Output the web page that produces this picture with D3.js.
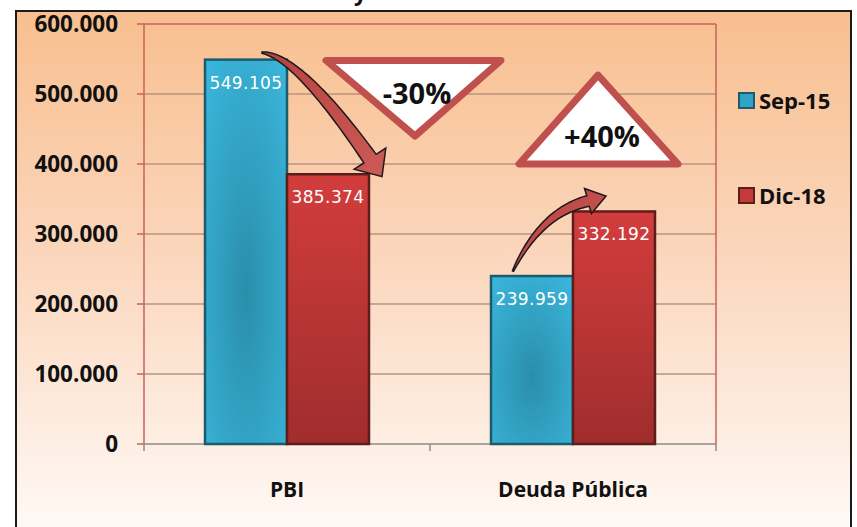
<!DOCTYPE html>
<html>
<head>
<meta charset="utf-8">
<script src="https://cdn.jsdelivr.net/npm/d3@7"></script>
<style>
  body { margin: 0; background: #fff; }
  svg { display: block; }
  .tick-label { font-family: "Open Sans", sans-serif; font-weight: 700; font-size: 22.5px; fill: #111; }
  .cat-label { font-family: "Open Sans", sans-serif; font-weight: 700; font-size: 21px; fill: #111; }
  .value-label { font-family: "DejaVu Sans", sans-serif; font-size: 17px; fill: #fff; letter-spacing: 0.4px; }
  .legend-label { font-family: "Open Sans", sans-serif; font-weight: 700; font-size: 22px; fill: #111; }
  .badge { font-family: "Open Sans", sans-serif; font-weight: 700; font-size: 29px; fill: #111; }
</style>
</head>
<body>
<div id="chart"></div>
<script>
const categories = ["PBI", "Deuda Pública"];
const series = ["Sep-15", "Dic-18"];
const sep15 = [549105, 239959];
const dic18 = [385374, 332192];
const valueLabels = [["549.105", "385.374"], ["239.959", "332.192"]];
const yTicks = [0, 100000, 200000, 300000, 400000, 500000, 600000];
const yTickLabels = ["0", "100.000", "200.000", "300.000", "400.000", "500.000", "600.000"];
const changes = ["-30%", "+40%"];

const width = 857, height = 527;
const plot = { left: 144, right: 716, top: 24, bottom: 444 };

const svg = d3.select("#chart").append("svg")
  .attr("width", width)
  .attr("height", height);

const defs = svg.append("defs");

const bg = defs.append("linearGradient").attr("id", "bg")
  .attr("x1", 0).attr("y1", 0).attr("x2", 0).attr("y2", 1);
bg.append("stop").attr("offset", "0%").attr("stop-color", "#f8bf8f");
bg.append("stop").attr("offset", "45%").attr("stop-color", "#fbd6bc");
bg.append("stop").attr("offset", "100%").attr("stop-color", "#fffcfa");

const blue = defs.append("radialGradient").attr("id", "blue")
  .attr("cx", "50%").attr("cy", "60%").attr("r", "75%");
blue.append("stop").attr("offset", "0%").attr("stop-color", "#2a8eaa");
blue.append("stop").attr("offset", "100%").attr("stop-color", "#3ab6dc");

const red = defs.append("linearGradient").attr("id", "red")
  .attr("x1", 0).attr("y1", 0).attr("x2", 0).attr("y2", 1);
red.append("stop").attr("offset", "0%").attr("stop-color", "#d23d3c");
red.append("stop").attr("offset", "100%").attr("stop-color", "#a02d2d");

const arrowFill = defs.append("linearGradient").attr("id", "arrowFill")
  .attr("x1", 0).attr("y1", 0).attr("x2", 1).attr("y2", 1);
arrowFill.append("stop").attr("offset", "0%").attr("stop-color", "#b8413f");
arrowFill.append("stop").attr("offset", "100%").attr("stop-color", "#cc5a56");

// white page, with the cut-off title above the frame
svg.append("text")
  .attr("class", "tick-label")
  .attr("x", 354).attr("y", 0)
  .text("y");

svg.append("rect")
  .attr("x", 16).attr("y", 11)
  .attr("width", 835).attr("height", 540)
  .attr("fill", "url(#bg)")
  .attr("stroke", "#1a1a1a")
  .attr("stroke-width", 2);

const y = d3.scaleLinear()
  .domain([0, 600000])
  .range([plot.bottom, plot.top]);

const x = d3.scaleBand()
  .domain(categories)
  .range([plot.left, plot.right]);

const xs = d3.scaleBand()
  .domain(series)
  .range([0, x.bandwidth()])
  .paddingOuter(0.744);

// grid
svg.append("g")
  .selectAll("line")
  .data(yTicks.filter(d => d > 0))
  .join("line")
    .attr("x1", plot.left).attr("x2", plot.right)
    .attr("y1", d => y(d)).attr("y2", d => y(d))
    .attr("stroke", d => d === 600000 ? "#c9605a" : "#b9937e")
    .attr("stroke-width", 1.5);

svg.append("line")
  .attr("x1", plot.right).attr("x2", plot.right)
  .attr("y1", plot.top).attr("y2", plot.bottom)
  .attr("stroke", "#c9605a").attr("stroke-width", 1.5);

// y axis
const yAxis = svg.append("g");
yAxis.append("line")
  .attr("x1", plot.left).attr("x2", plot.left)
  .attr("y1", plot.top).attr("y2", plot.bottom)
  .attr("stroke", "#c9605a").attr("stroke-width", 1.5);
yAxis.selectAll(".tick")
  .data(yTicks)
  .join("line")
    .attr("x1", plot.left - 7).attr("x2", plot.left)
    .attr("y1", d => y(d)).attr("y2", d => y(d))
    .attr("stroke", "#c9605a").attr("stroke-width", 1.5);
yAxis.selectAll("text")
  .data(yTicks)
  .join("text")
    .attr("class", "tick-label")
    .attr("x", 118)
    .attr("y", d => y(d) + 8)
    .attr("text-anchor", "end")
    .text((d, i) => yTickLabels[i]);

// x axis
const xAxis = svg.append("g");
xAxis.append("line")
  .attr("x1", plot.left).attr("x2", plot.right)
  .attr("y1", plot.bottom).attr("y2", plot.bottom)
  .attr("stroke", "#8e8a88").attr("stroke-width", 1.5);
xAxis.selectAll(".edge")
  .data([plot.left, x(categories[1]), plot.right])
  .join("line")
    .attr("x1", d => d).attr("x2", d => d)
    .attr("y1", plot.bottom).attr("y2", plot.bottom + 7)
    .attr("stroke", "#8e8a88").attr("stroke-width", 1.5);
xAxis.selectAll("text")
  .data(categories)
  .join("text")
    .attr("class", "cat-label")
    .attr("x", d => x(d) + x.bandwidth() / 2)
    .attr("y", 497)
    .attr("text-anchor", "middle")
    .text(d => d);

// bars
const rows = categories.map((c, i) => ({
  category: c,
  values: [
    { series: series[0], value: sep15[i], label: valueLabels[i][0] },
    { series: series[1], value: dic18[i], label: valueLabels[i][1] }
  ]
}));

const groups = svg.append("g")
  .selectAll("g")
  .data(rows)
  .join("g")
    .attr("transform", d => `translate(${x(d.category)},0)`);

groups.selectAll("rect")
  .data(d => d.values)
  .join("rect")
    .attr("x", d => xs(d.series))
    .attr("y", d => y(d.value))
    .attr("width", xs.bandwidth())
    .attr("height", d => y(0) - y(d.value))
    .attr("fill", d => d.series === series[0] ? "url(#blue)" : "url(#red)")
    .attr("stroke", d => d.series === series[0] ? "#1d5a6c" : "#5c1d1d")
    .attr("stroke-width", 2.5);

groups.selectAll("text")
  .data(d => d.values)
  .join("text")
    .attr("class", "value-label")
    .attr("x", d => xs(d.series) + xs.bandwidth() / 2)
    .attr("y", d => y(d.value) + 29)
    .attr("text-anchor", "middle")
    .text(d => d.label);

// curved arrows
function arrowPath(tail, ctrl, base, tip, shaftW, headW) {
  const n = 40;
  const left = [], right = [];
  for (let k = 0; k <= n; k++) {
    const t = k / n;
    const px = (1 - t) * (1 - t) * tail[0] + 2 * (1 - t) * t * ctrl[0] + t * t * base[0];
    const py = (1 - t) * (1 - t) * tail[1] + 2 * (1 - t) * t * ctrl[1] + t * t * base[1];
    const dx = 2 * (1 - t) * (ctrl[0] - tail[0]) + 2 * t * (base[0] - ctrl[0]);
    const dy = 2 * (1 - t) * (ctrl[1] - tail[1]) + 2 * t * (base[1] - ctrl[1]);
    const len = Math.hypot(dx, dy);
    const nx = -dy / len, ny = dx / len;
    const w = (0.6 + (shaftW / 2 - 0.6) * Math.pow(t, 0.8));
    left.push([px + nx * w, py + ny * w]);
    right.push([px - nx * w, py - ny * w]);
  }
  const dx = tip[0] - base[0], dy = tip[1] - base[1];
  const len = Math.hypot(dx, dy);
  const nx = -dy / len, ny = dx / len;
  const pts = left.concat([
    [base[0] + nx * headW, base[1] + ny * headW],
    tip,
    [base[0] - nx * headW, base[1] - ny * headW]
  ], right.reverse());
  return d3.line()(pts) + "Z";
}

const pbiSep = x(categories[0]) + xs(series[0]);
const pbiTop = y(sep15[0]);
const deuSep = x(categories[1]) + xs(series[0]);
const deuTop = y(sep15[1]);

const arrows = [
  arrowPath([pbiSep + 57, pbiTop - 7], [pbiSep + 93, pbiTop - 4],
            [pbiSep + 165, pbiTop + 99], [pbiSep + 177, pbiTop + 117], 15, 19),
  arrowPath([deuSep + 22, deuTop - 5], [deuSep + 50, deuTop - 64],
            [deuSep + 97, deuTop - 75], [deuSep + 115, deuTop - 80], 11, 13)
];

svg.append("g")
  .selectAll("path")
  .data(arrows)
  .join("path")
    .attr("d", d => d)
    .attr("fill", "url(#arrowFill)")
    .attr("stroke", "#1a1a1a")
    .attr("stroke-width", 1.5)
    .attr("stroke-linejoin", "miter");

// change badges
const badges = [
  { text: changes[0], pts: [[326, y(548000)], [501, y(548000)], [415, y(440000)]], tx: 417, ty: y(486000) },
  { text: changes[1], pts: [[519, y(400000)], [678, y(400000)], [598, y(527000)]], tx: 602, ty: y(425000) }
];

const badge = svg.append("g")
  .selectAll("g")
  .data(badges)
  .join("g");

badge.append("path")
  .attr("d", d => d3.line()(d.pts) + "Z")
  .attr("fill", "#fff")
  .attr("stroke", "#c0504d")
  .attr("stroke-width", 7)
  .attr("stroke-linejoin", "round");

badge.append("text")
  .attr("class", "badge")
  .attr("x", d => d.tx)
  .attr("y", d => d.ty)
  .attr("text-anchor", "middle")
  .text(d => d.text);

// legend
const legend = svg.append("g")
  .selectAll("g")
  .data(series)
  .join("g")
    .attr("transform", (d, i) => `translate(739, ${93 + i * 95})`);

legend.append("rect")
  .attr("width", 15).attr("height", 15)
  .attr("fill", (d, i) => i === 0 ? "#2fa3c6" : "#c43a3a")
  .attr("stroke", (d, i) => i === 0 ? "#1d5a6c" : "#5c1d1d")
  .attr("stroke-width", 2);

legend.append("text")
  .attr("class", "legend-label")
  .attr("x", 20)
  .attr("y", 15.5)
  .text(d => d);
</script>
</body>
</html>
